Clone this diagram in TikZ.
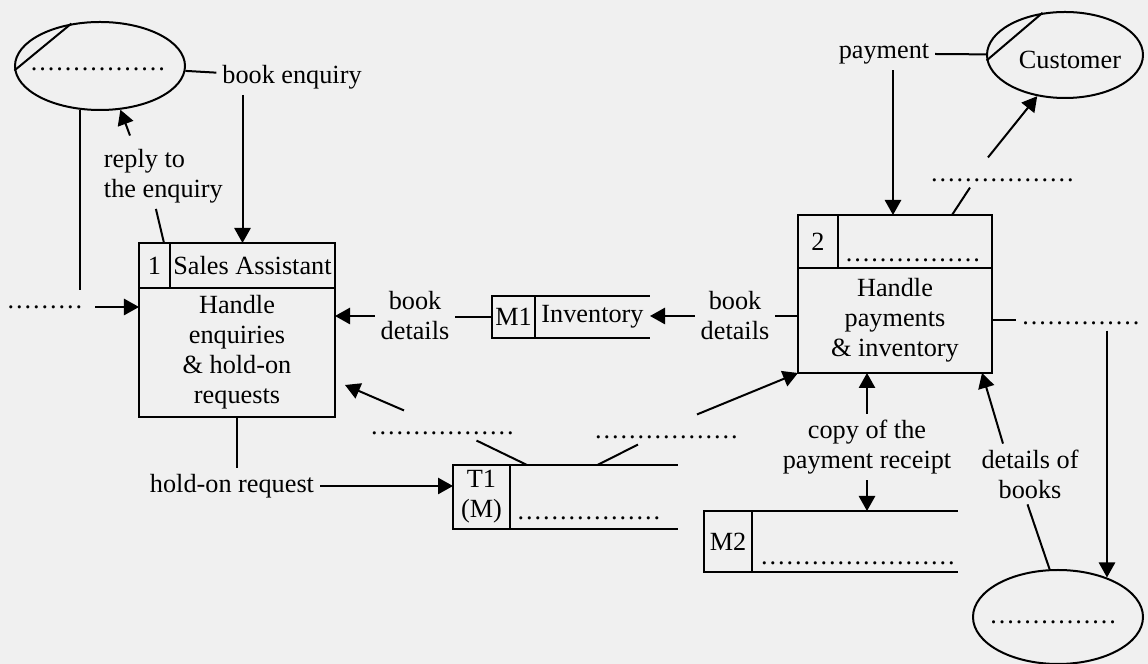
\documentclass[tikz,border=0pt]{standalone}
\usepackage{fontspec}
\setmainfont{Liberation Serif}
\usetikzlibrary{shapes.geometric,arrows.meta}
\newcommand{\blank}[1]{\makebox[#1]{\leaders\hbox to 3.4pt{\hss.\hss}\hfill}}

\begin{document}
\begin{tikzpicture}[x=0.4pt,y=-0.4pt,line width=0.8pt,
  >={Triangle[length=6pt,width=6.5pt]},
  every node/.style={font=\fontsize{10.5}{12}\selectfont,inner sep=2pt},
  proc/.style={draw,rectangle,inner sep=0pt,outer sep=0pt},
  store/.style={rectangle,inner sep=0pt,outer sep=0pt},
  entity/.style={draw,ellipse,inner sep=0pt},
  lbl/.style={align=center}]
  % page
  \fill[black!6] (0,0) rectangle (1148,664);
  \useasboundingbox (0,0) rectangle (1148,664);

  % process 1
  \node[proc,minimum width=12.4pt,minimum height=18pt] (p1n) at (154.5,265.5) {1};
  \node[proc,minimum width=66pt,minimum height=18pt] (p1t) at (252.5,265.5) {Sales Assistant};
  \node[proc,minimum width=78.4pt,minimum height=51.6pt,align=center] (p1) at (237,352.5)
    {Handle\\enquiries\\\& hold-on\\requests};

  % process 2
  \node[proc,minimum width=16pt,minimum height=21.2pt] (p2n) at (818,241.5) {2};
  \node[proc,minimum width=61.6pt,minimum height=21.2pt] (p2t) at (915,241.5) {};
  \node (b6) at (915,260) {\blank{56pt}};
  \node[proc,minimum width=77.6pt,minimum height=42pt,align=center] (p2) at (895,320.5)
    {Handle\\payments\\\& inventory};

  % data stores
  \node[proc,minimum width=17.2pt,minimum height=16.8pt] (id-m1) at (513.5,317) {M1};
  \node[store,minimum width=46pt,minimum height=16.8pt] (m1) at (592.5,317) {Inventory};
  \node[proc,minimum width=22.8pt,minimum height=25.6pt,align=center] (id-t1) at (481.5,497) {T1\\(M)};
  \node[store,minimum width=67.2pt,minimum height=25.6pt] (t1) at (594,497) {};
  \node (b5) at (593,518) {\blank{61pt}};
  \node[proc,minimum width=19.2pt,minimum height=24.4pt] (id-m2) at (728,541.5) {M2};
  \node[store,minimum width=82.4pt,minimum height=24.4pt] (m2) at (855,541.5) {};
  \node (b9) at (859,563) {\blank{79pt}};
  \foreach \s in {m1,t1,m2}
    \draw (id-\s.north east) -- (\s.north east) (id-\s.south east) -- (\s.south east);

  % external entities
  \node[entity,minimum width=68pt,minimum height=35.2pt] (ent1) at (100,66) {};
  \node (b1) at (100,69) {\blank{56pt}};
  \draw (ent1.183) -- (ent1.124);
  \node[entity,minimum width=62.4pt,minimum height=34.4pt] (cust) at (1065,55) {};
  \node (custname) at (1070,60) {Customer};
  \draw (cust.184) -- (cust.118);
  \node[entity,minimum width=68pt,minimum height=37.6pt] (ent3) at (1058,617) {};
  \node (b10) at (1057,622) {\blank{54pt}};

  % labels
  \node (benq) at (292,77) {book enquiry};
  \node[align=left,anchor=west] (rply) at (98,176) {reply to\\the enquiry};
  \node (lft) at (48,307) {\blank{33pt}};
  \node[lbl] (bd1) at (415,316) {book\\details};
  \node[lbl] (bd2) at (735,316) {book\\details};
  \node (b3) at (444,433) {\blank{59pt}};
  \node (b4) at (668,437) {\blank{59pt}};
  \node (hold) at (232,486) {hold-on request};
  \node (pay) at (884,54) {payment};
  \node (b7) at (1004,180) {\blank{59pt}};
  \node (b8) at (1084,323) {\blank{50pt}};
  \node[lbl] (cpy) at (867,447) {copy of the\\payment receipt};
  \node[lbl] (dob) at (1030,474) {details of\\books};

  % flows around process 1
  \coordinate (q1) at ([xshift=-4pt]p1t.north);
  \draw (ent1) -- (benq);
  \draw[->] (q1 |- benq.south) -- (q1);
  \draw[->] ([xshift=12.8pt,yshift=3pt]rply.north west) -- (ent1.295);
  \draw ([xshift=-3pt]rply.south) -- ([xshift=-2.4pt]p1n.north east);
  \coordinate (lend) at (80,290);
  \draw (ent1.245) -- (ent1.245 |- lend);
  \draw[->] (lft.east) -- (lft.east -| p1.west);
  \draw[->] (bd1.west) -- (bd1.west -| p1.east);
  \draw (id-m1.west) -- (id-m1.west -| bd1.east);
  \draw (p1.south) -- (p1.south |- hold.north);
  \draw[->] (hold.east) -- (hold.east -| id-t1.west);

  % flows with T1
  \draw ([xshift=6.8pt]t1.north west) -- ([xshift=13pt]b3.south);
  \draw[->] ([shift={(-16pt,6pt)}]b3.north) -- ([shift={(4pt,12.8pt)}]p1.south east);
  \draw ([xshift=35pt]t1.north west) -- ([xshift=-12pt]b4.south);
  \draw[->] ([shift={(11.6pt,6pt)}]b4.north) -- (p2.south west);

  % flows around process 2
  \draw[->] (bd2.west) -- (bd2.west -| m1.east);
  \draw (p2.west |- bd2.east) -- (bd2.east);
  \coordinate (q2) at ([xshift=22pt]p2t.north west);
  \draw (pay.east) -- (cust);
  \draw[->] (q2 |- pay.south) -- (q2);
  \draw ([xshift=14.8pt]p2t.north) -- ([xshift=-13.6pt]b7.south);
  \draw[->] ([shift={(-6.4pt,6pt)}]b7.north) -- (cust.236);
  \draw (p2.east) -- (p2.east -| b8.west);
  \coordinate (q3) at ([xshift=9.2pt]b8.south);
  \draw[->] (q3) -- (q3 |- ent3.39);
  \draw[->] (cpy.north) -- (cpy.north |- p2.south);
  \draw[->] (cpy.south) -- (cpy.south |- m2.north);
  \draw[->] ([xshift=-10.8pt]dob.north) -- ([xshift=-4pt]p2.south east);
  \draw ([xshift=-1pt]dob.south) -- (ent3.100);
\end{tikzpicture}
\end{document}
